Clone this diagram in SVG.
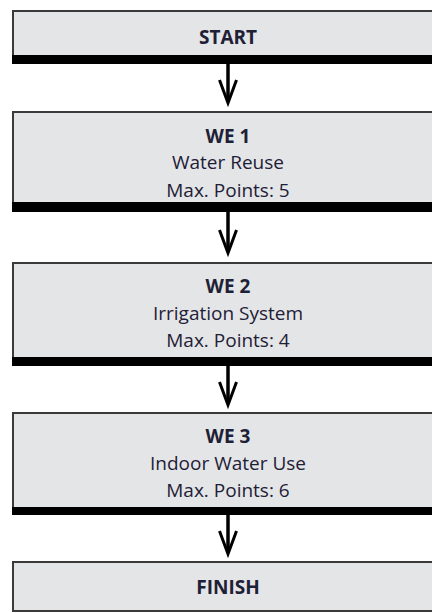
<svg xmlns="http://www.w3.org/2000/svg" width="432" height="613" viewBox="0 0 432 613">
  <defs>
    <style>
      .box { fill: #e4e5e7; stroke: #3a3a3a; stroke-width: 2; }
      .bar { fill: #000; }
      .t { font-family: "Open Sans", "Liberation Sans", sans-serif; font-size: 19px; fill: #1e2036; text-anchor: middle; }
      .b { font-weight: bold; }
      .conn { stroke: #000; stroke-width: 3.5; fill: none; }
      .head { stroke: #000; stroke-width: 3; fill: none; stroke-linejoin: miter; }
    </style>
  </defs>
  <rect width="432" height="613" fill="#fff"/>

  <g id="start">
    <rect class="box" x="13" y="11" width="430" height="46"/>
    <rect class="bar" x="12" y="55" width="432" height="9"/>
    <text class="t b" x="228" y="44">START</text>
  </g>

  <g id="we1">
    <rect class="box" x="13" y="112" width="430" height="92"/>
    <rect class="bar" x="12" y="202" width="432" height="10"/>
    <text class="t b" x="228" y="143">WE 1</text>
    <text class="t" x="228" y="169">Water Reuse</text>
    <text class="t" x="228" y="197">Max. Points: 5</text>
  </g>

  <g id="we2">
    <rect class="box" x="13" y="263" width="430" height="96"/>
    <rect class="bar" x="12" y="357" width="432" height="9"/>
    <text class="t b" x="228" y="293">WE 2</text>
    <text class="t" x="228" y="320">Irrigation System</text>
    <text class="t" x="228" y="347">Max. Points: 4</text>
  </g>

  <g id="we3">
    <rect class="box" x="13" y="413" width="430" height="96"/>
    <rect class="bar" x="12" y="507" width="432" height="8"/>
    <text class="t b" x="228" y="443">WE 3</text>
    <text class="t" x="228" y="470">Indoor Water Use</text>
    <text class="t" x="228" y="497">Max. Points: 6</text>
  </g>

  <g id="finish">
    <rect class="box" x="13" y="562" width="430" height="49"/>
    <text class="t b" x="228" y="594">FINISH</text>
  </g>

  <g id="connectors">
    <line class="conn" x1="228" y1="64" x2="228" y2="101"/>
    <polyline class="head" points="219.5,80 228,103 236.5,80"/>
    <line class="conn" x1="228" y1="212" x2="228" y2="251"/>
    <polyline class="head" points="219.5,230 228,253 236.5,230"/>
    <line class="conn" x1="228" y1="366" x2="228" y2="403"/>
    <polyline class="head" points="219.5,382 228,405 236.5,382"/>
    <line class="conn" x1="228" y1="515" x2="228" y2="552"/>
    <polyline class="head" points="219.5,531 228,554 236.5,531"/>
  </g>
</svg>
